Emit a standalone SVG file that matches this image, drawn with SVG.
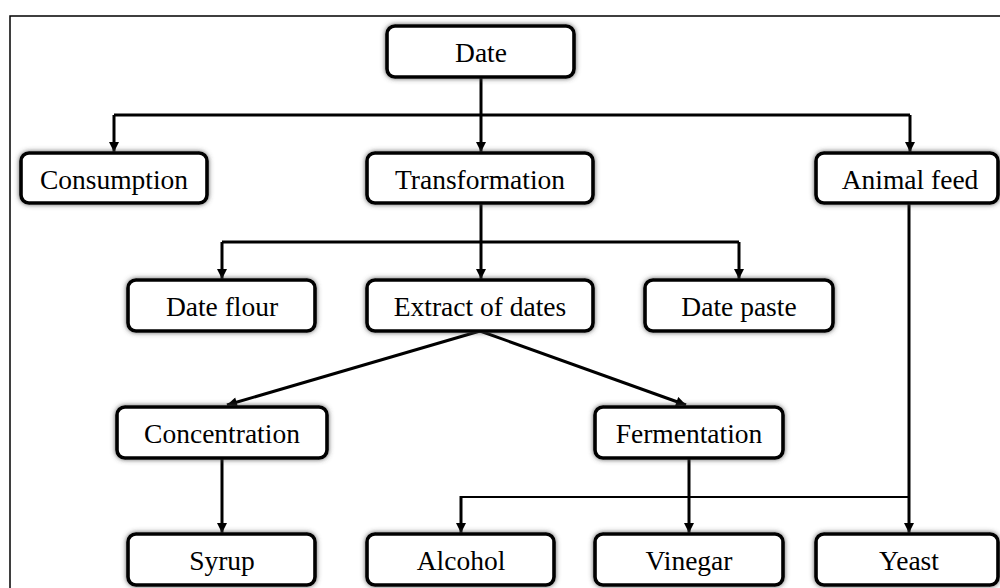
<svg xmlns="http://www.w3.org/2000/svg" width="1000" height="588" viewBox="0 0 1000 588">
<style>
.box{fill:#fff;stroke:#000;stroke-width:3.6;filter:url(#glow)}
.lbl{font-family:'Liberation Serif','Times New Roman',serif;font-size:27.5px;text-anchor:middle;fill:#000}
.ln{fill:none;stroke:#000;stroke-width:3}
.thin{fill:none;stroke:#000;stroke-width:2.2}
</style>
<defs>
<filter id="glow" x="-10%" y="-20%" width="120%" height="140%">
<feGaussianBlur in="SourceAlpha" stdDeviation="2.4" result="b"/>
<feFlood flood-color="#444" flood-opacity="0.85"/>
<feComposite in2="b" operator="in" result="s"/>
<feMerge><feMergeNode in="s"/><feMergeNode in="SourceGraphic"/></feMerge>
</filter>
<marker id="ah" viewBox="0 0 10 10" refX="10" refY="5" markerWidth="11" markerHeight="10" markerUnits="userSpaceOnUse" orient="auto">
<path d="M0,0 L10,5 L0,10 z" fill="#000"/>
</marker>
</defs>
<rect x="10" y="16" width="995" height="580" fill="none" stroke="#000" stroke-width="1.5"/>
<g id="connectors">
<path class="ln" d="M481,77 V152" marker-end="url(#ah)"/>
<path class="ln" d="M114,115 H910"/>
<path class="ln" d="M114,115 V152" marker-end="url(#ah)"/>
<path class="ln" d="M910,115 V152" marker-end="url(#ah)"/>
<path class="ln" d="M481,203 V279" marker-end="url(#ah)"/>
<path class="ln" d="M222,242 H739"/>
<path class="ln" d="M222,242 V279" marker-end="url(#ah)"/>
<path class="ln" d="M739,242 V279" marker-end="url(#ah)"/>
<path class="ln" d="M480,331 L227,405" marker-end="url(#ah)"/>
<path class="ln" d="M480,331 L686,405" marker-end="url(#ah)"/>
<path class="ln" d="M222,458 V533" marker-end="url(#ah)"/>
<path class="ln" d="M689,458 V533" marker-end="url(#ah)"/>
<path class="ln" d="M909,203 V533" marker-end="url(#ah)"/>
<path class="thin" d="M461,497 H909"/>
<path class="ln" d="M461,496 V533" marker-end="url(#ah)"/>
</g>
<g id="n-date"><rect class="box" x="387" y="26" width="187" height="51" rx="8"/><text class="lbl" x="481" y="62">Date</text></g>
<g id="n-consumption"><rect class="box" x="21" y="153" width="186" height="50" rx="8"/><text class="lbl" x="114" y="189">Consumption</text></g>
<g id="n-transformation"><rect class="box" x="367" y="153" width="226" height="50" rx="8"/><text class="lbl" x="480" y="189">Transformation</text></g>
<g id="n-animalfeed"><rect class="box" x="816" y="153" width="182" height="50" rx="8"/><text class="lbl" x="910" y="189">Animal feed</text></g>
<g id="n-dateflour"><rect class="box" x="128" y="280" width="187" height="51" rx="8"/><text class="lbl" x="222" y="316">Date flour</text></g>
<g id="n-extract"><rect class="box" x="367" y="280" width="226" height="51" rx="8"/><text class="lbl" x="480" y="316">Extract of dates</text></g>
<g id="n-datepaste"><rect class="box" x="645" y="280" width="188" height="51" rx="8"/><text class="lbl" x="739" y="316">Date paste</text></g>
<g id="n-concentration"><rect class="box" x="117" y="407" width="210" height="51" rx="8"/><text class="lbl" x="222" y="443">Concentration</text></g>
<g id="n-fermentation"><rect class="box" x="595" y="407" width="188" height="51" rx="8"/><text class="lbl" x="689" y="443">Fermentation</text></g>
<g id="n-syrup"><rect class="box" x="128" y="534" width="187" height="51" rx="8"/><text class="lbl" x="222" y="570">Syrup</text></g>
<g id="n-alcohol"><rect class="box" x="367" y="534" width="187" height="51" rx="8"/><text class="lbl" x="461" y="570">Alcohol</text></g>
<g id="n-vinegar"><rect class="box" x="595" y="534" width="188" height="51" rx="8"/><text class="lbl" x="689" y="570">Vinegar</text></g>
<g id="n-yeast"><rect class="box" x="816" y="534" width="182" height="51" rx="8"/><text class="lbl" x="909" y="570">Yeast</text></g>
</svg>
